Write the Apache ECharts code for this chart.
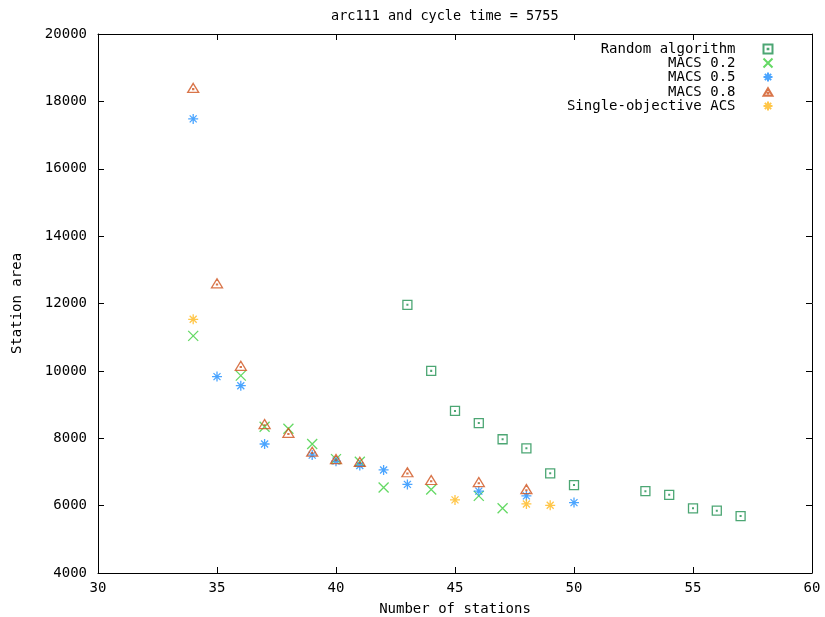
<!DOCTYPE html>
<html>
<head>
<meta charset="utf-8">
<title>arc111 and cycle time = 5755</title>
<script src="https://cdn.jsdelivr.net/npm/echarts@6/dist/echarts.min.js"></script>
<style>
  html, body { margin: 0; padding: 0; background: #fff; }
  #chart { width: 825px; height: 617px; }
</style>
</head>
<body>
<div id="chart"></div>
<script>
// [stations, station area]
const randomAlg = [
  [43, 11960], [44, 10000], [45, 8810], [46, 8450], [47, 7970], [48, 7700],
  [49, 6960], [50, 6610], [53, 6430], [54, 6320], [55, 5920], [56, 5850], [57, 5690]
]
const macs02 = [
  [34, 11040], [36, 9860], [37, 8340], [38, 8280], [39, 7830], [40, 7380],
  [41, 7300], [42, 6540], [44, 6480], [46, 6290], [47, 5920]
]
const macs05 = [
  [34, 17480], [35, 9830], [36, 9560], [37, 7830], [39, 7500], [40, 7320],
  [41, 7190], [42, 7060], [43, 6630], [46, 6430], [48, 6290], [50, 6090]
]
const macs08 = [
  [34, 18400], [35, 12600], [36, 10150], [37, 8420], [38, 8160], [39, 7600],
  [40, 7380], [41, 7300], [43, 6990], [44, 6760], [46, 6700], [48, 6490]
]
const singleAcs = [
  [34, 11530], [45, 6170], [48, 6050], [49, 6010]
]
const seriesNames = ['Random algorithm', 'MACS 0.2', 'MACS 0.5', 'MACS 0.8', 'Single-objective ACS']
const seriesColors = ['#1f9050', '#3fcf3f', '#1e8fff', '#d0531d', '#ffb81c']

const chart = echarts.init(document.getElementById('chart'))

const font = 'DejaVu Sans Mono'
const boxPath = 'path://M0,0L10,0L10,10L0,10Z M4.6,4.6L5.4,4.6L5.4,5.4L4.6,5.4Z'
const crossPath = 'path://M0,0L10,10M10,0L0,10'
const starPath = 'path://M5,0L5,10M0,5L10,5M1.5,1.5L8.5,8.5M8.5,1.5L1.5,8.5'
const triPath = 'path://M5,0L10,8.5L0,8.5Z M4.6,5L5.4,5L5.4,5.8L4.6,5.8Z'
const symbols = [boxPath, crossPath, starPath, triPath, starPath]
const sizes = [[9, 9], [10, 10], [10, 10], [11, 9], [10, 10]]
const datasets = [randomAlg, macs02, macs05, macs08, singleAcs]

const axisCommon = {
  axisLine: { show: true, lineStyle: { color: '#000', width: 1 } },
  axisTick: { show: true, inside: true, length: 6, lineStyle: { color: '#000' } },
  splitLine: { show: false }
}

const legendTops = [42, 56, 70, 85, 99]

chart.setOption({
  animation: false,
  title: {
    text: 'arc111 and cycle time = 5755',
    left: 326,
    top: 4,
    textStyle: { fontFamily: font, fontSize: 13.5, fontWeight: 'normal', color: '#000' }
  },
  legend: seriesNames.map((name, i) => ({
    data: [name],
    right: 50,
    top: legendTops[i],
    align: 'right',
    itemWidth: 9,
    itemHeight: 9,
    padding: 0,
    textStyle: { fontFamily: font, fontSize: 14, color: '#000', padding: [0, 23, 0, 0] }
  })),
  grid: { left: 98, right: 13, top: 34, bottom: 44, outerBoundsMode: 'none' },
  xAxis: [
    {
      ...axisCommon,
      type: 'value', min: 30, max: 60, interval: 5,
      name: 'Number of stations', nameLocation: 'middle', nameGap: 29,
      nameTextStyle: { fontFamily: font, fontSize: 14, color: '#000' },
      axisLabel: { fontFamily: font, fontSize: 14, color: '#000', margin: 8 }
    },
    {
      ...axisCommon,
      type: 'value', min: 30, max: 60, interval: 5, position: 'top',
      axisLabel: { show: false }
    }
  ],
  yAxis: [
    {
      ...axisCommon,
      type: 'value', min: 4000, max: 20000, interval: 2000,
      name: 'Station area', nameLocation: 'middle', nameGap: 74,
      nameTextStyle: { fontFamily: font, fontSize: 14, color: '#000' },
      axisLabel: { fontFamily: font, fontSize: 14, color: '#000', margin: 11, formatter: v => String(v) }
    },
    {
      ...axisCommon,
      type: 'value', min: 4000, max: 20000, interval: 2000, position: 'right',
      axisLabel: { show: false }
    }
  ],
  series: seriesNames.map((name, i) => ({
    name: name,
    type: 'scatter',
    data: datasets[i],
    symbol: symbols[i],
    symbolSize: sizes[i],
    itemStyle: { color: 'none', borderColor: seriesColors[i], borderWidth: 1.3 }
  }))
})
</script>
</body>
</html>
